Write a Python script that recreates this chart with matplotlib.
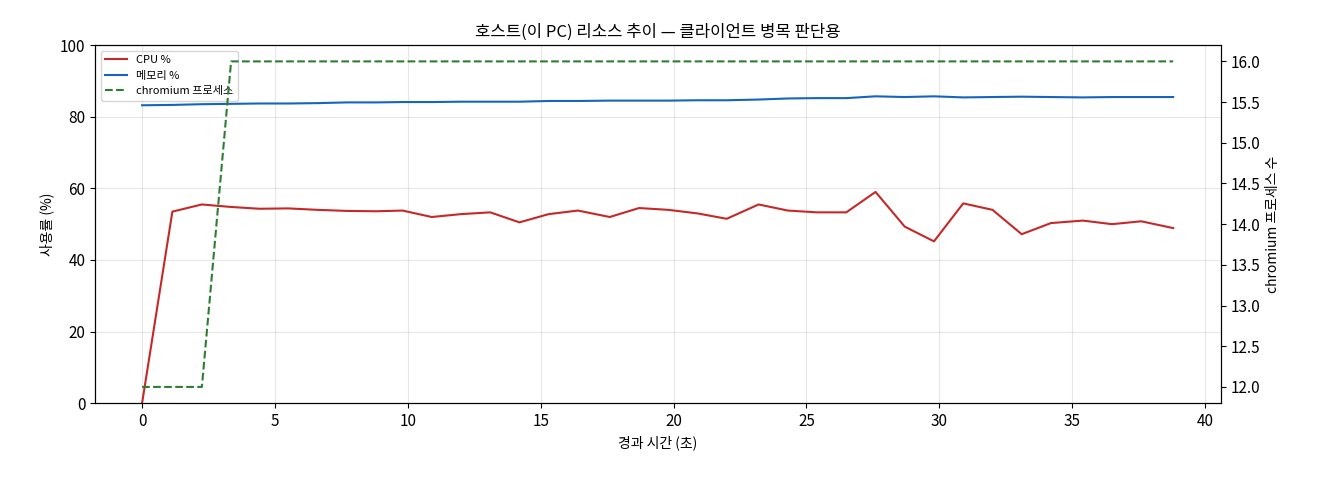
import matplotlib
matplotlib.use("Agg")
import matplotlib.pyplot as plt

plt.rcParams['font.family'] = ['Noto Sans CJK KR', 'DejaVu Sans']

times = [0.0, 1.14, 2.25, 3.35, 4.42, 5.5, 6.6, 7.7, 8.8, 9.8, 10.9, 12.0, 13.1,
         14.2, 15.3, 16.4, 17.6, 18.7, 19.8, 20.9, 22.0, 23.2, 24.3, 25.4, 26.5,
         27.6, 28.7, 29.8, 30.9, 32.0, 33.1, 34.2, 35.4, 36.5, 37.6, 38.8]
cpu = [0, 53.5, 55.5, 54.8, 54.3, 54.4, 54.0, 53.7, 53.6, 53.8, 52.0, 52.8, 53.3,
       50.5, 52.8, 53.8, 52.0, 54.5, 54.0, 53.0, 51.5, 55.5, 53.8, 53.3, 53.3,
       59.0, 49.3, 45.2, 55.8, 54.0, 47.2, 50.3, 51.0, 50.0, 50.8, 48.9]
mem = [83.2, 83.3, 83.5, 83.6, 83.7, 83.7, 83.8, 84.0, 84.0, 84.1, 84.1, 84.2, 84.2,
       84.2, 84.4, 84.4, 84.5, 84.5, 84.5, 84.6, 84.6, 84.8, 85.1, 85.2, 85.2,
       85.7, 85.5, 85.7, 85.4, 85.5, 85.6, 85.5, 85.4, 85.5, 85.5, 85.5]
procs = [12, 12, 12] + [16] * 33

fig, ax = plt.subplots(figsize=(13.2, 4.8), dpi=100)
fig.subplots_adjust(left=0.072, right=0.925, top=0.906, bottom=0.16)

l1, = ax.plot(times, cpu, color="#c62828", lw=1.5, label="CPU %")
l2, = ax.plot(times, mem, color="#1565c0", lw=1.5, label="메모리 %")
ax.set_ylim(0, 100)
ax.set_xlim(-1.77, 40.6)
ax.grid(alpha=0.3)
ax.tick_params(labelsize=11)
ax.set_xlabel("경과 시간 (초)")
ax.set_ylabel("사용률 (%)")
ax.set_title("호스트(이 PC) 리소스 추이 — 클라이언트 병목 판단용", fontsize=12)

ax2 = ax.twinx()
l3, = ax2.plot(times, procs, color="#2e7d32", lw=1.5, ls="--", label="chromium 프로세스")
ax2.set_ylim(11.8, 16.2)
ax2.tick_params(labelsize=11)
ax2.set_ylabel("chromium 프로세스 수")

ax.legend(handles=[l1, l2, l3], loc="upper left", fontsize=8)
fig.savefig("out.png")
